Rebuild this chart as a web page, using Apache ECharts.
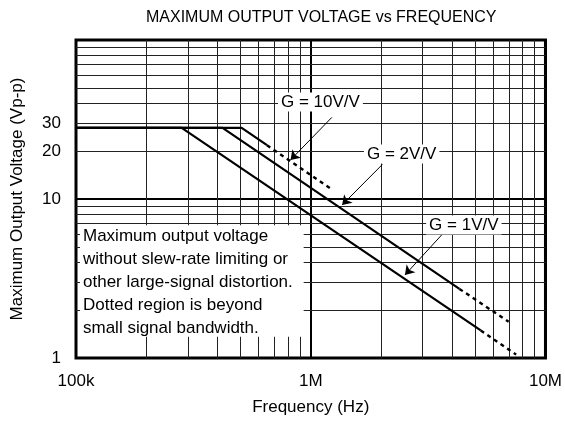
<!DOCTYPE html>
<html>
<head>
<meta charset="utf-8">
<script src="https://cdn.jsdelivr.net/npm/echarts@6/dist/echarts.min.js"></script>
<style>
  html, body { margin: 0; padding: 0; background: #fff; }
  #container { width: 565px; height: 424px; }
</style>
</head>
<body>
<div id="container"></div>
<script>
// curve data (frequency in Hz, output in Vp-p)
var gain10Freq = [100e3, 508e3, 651e3];
var gain10Volt = [28, 28, 21.8];
var gain10DotFreq = [651e3, 1.23e6];
var gain10DotVolt = [21.8, 11.5];

var gain2Freq = [100e3, 421e3, 4.3e6];
var gain2Volt = [28, 28, 2.72];
var gain2DotFreq = [4.3e6, 6.97e6];
var gain2DotVolt = [2.72, 1.69];

var gain1Freq = [100e3, 282e3, 5.3e6];
var gain1Volt = [28, 28, 1.49];
var gain1DotFreq = [5.3e6, 7.5e6];
var gain1DotVolt = [1.49, 1.05];

var yTickLabels = [1, 10, 20, 30];
var xDecades = [1e5, 1e6];
var yDecades = [1, 10];
var mantissas = [2, 3, 4, 5, 6, 7, 8, 9];

var gainLabels = ['G = 10V/V', 'G = 2V/V', 'G = 1V/V'];
var noteText = [
  'Maximum output voltage',
  'without slew-rate limiting or',
  'other large-signal distortion.',
  'Dotted region is beyond',
  'small signal bandwidth.'
];

function pairs(xs, ys) {
  return xs.map(function (x, i) { return [x, ys[i]]; });
}

var minorLines = [];
xDecades.forEach(function (d) {
  mantissas.forEach(function (m) { minorLines.push({ xAxis: d * m }); });
});
yDecades.forEach(function (d) {
  mantissas.forEach(function (m) { minorLines.push({ yAxis: d * m }); });
});

// annotation placement (data coords)
var labelPos = [[1.10e6, 40.8], [2.44e6, 19.2], [4.49e6, 6.87]];
var arrowPos = [
  [[1.23e6, 32.6], [8.2e5, 17.6]],
  [[2.02e6, 16.5], [1.36e6, 9.17]],
  [[3.72e6, 6.23], [2.52e6, 3.33]]
];

var font = 'Liberation Sans, Arial, Helvetica, sans-serif';
var solid = { color: '#000', width: 2.2, type: 'solid' };
var dotted = { color: '#000', width: 2.4, type: [4, 4] };

function curve(data, style) {
  return {
    type: 'line', data: data, z: 4, silent: true,
    showSymbol: false, symbol: 'none',
    lineStyle: style
  };
}

var dom = document.getElementById('container');
var myChart = echarts.init(dom, null, { renderer: 'canvas' });

var option = {
  animation: false,
  textStyle: { fontFamily: font },
  title: {
    text: 'MAXIMUM OUTPUT VOLTAGE vs FREQUENCY',
    left: 146, top: 10, padding: 0,
    textStyle: { fontSize: 16, fontWeight: 'normal', color: '#000', fontFamily: font }
  },
  grid: {
    left: 76, top: 40, width: 472, height: 318,
    show: true, borderColor: '#000', borderWidth: 3, backgroundColor: '#fff'
  },
  xAxis: {
    type: 'log', logBase: 10, min: 1e5, max: 1e7,
    name: 'Frequency (Hz)', nameLocation: 'middle', nameGap: 41,
    nameTextStyle: { fontSize: 17, color: '#000', fontFamily: font },
    axisLine: { show: false },
    axisTick: { show: false },
    axisLabel: {
      fontSize: 17, color: '#000', margin: 15, fontFamily: font,
      formatter: function (v) {
        v = Math.round(v);
        return v >= 1e6 ? (v / 1e6) + 'M' : (v / 1e3) + 'k';
      }
    },
    splitLine: { show: true, lineStyle: { color: '#000', width: 2 } }
  },
  yAxis: {
    type: 'log', logBase: 10, min: 1, max: 100,
    name: 'Maximum Output Voltage (Vp-p)', nameLocation: 'middle', nameGap: 50,
    nameTextStyle: { fontSize: 17, color: '#000', fontFamily: font },
    axisLine: { show: false },
    axisTick: { show: false },
    axisLabel: {
      fontSize: 17, color: '#000', margin: 15, fontFamily: font,
      customValues: yTickLabels,
      formatter: function (v) { return String(Math.round(v)); }
    },
    splitLine: { show: true, lineStyle: { color: '#000', width: 2 } }
  },
  series: [
    {
      type: 'line', data: [], z: 1, silent: true,
      markLine: {
        z: 1, silent: true, symbol: ['none', 'none'], animation: false,
        label: { show: false },
        lineStyle: { color: '#222', width: 1, type: 'solid' },
        data: minorLines
      }
    },
    {
      type: 'line', data: [], z: 3, silent: true,
      markArea: {
        z: 3, silent: true,
        itemStyle: { color: '#fff', opacity: 1 },
        label: {
          show: true, position: 'insideTopLeft', distance: 0, offset: [3, 0],
          fontSize: 17, lineHeight: 23, color: '#000', fontFamily: font,
          formatter: noteText.join('\n')
        },
        data: [[{ coord: [1.04e5, 6.85] }, { coord: [9.33e5, 1.36] }]]
      }
    },
    curve(pairs(gain10Freq, gain10Volt), solid),
    curve(pairs(gain10DotFreq, gain10DotVolt), dotted),
    curve(pairs(gain2Freq, gain2Volt), solid),
    curve(pairs(gain2DotFreq, gain2DotVolt), dotted),
    curve(pairs(gain1Freq, gain1Volt), solid),
    curve(pairs(gain1DotFreq, gain1DotVolt), dotted),
    {
      type: 'line', data: [], z: 5, silent: true,
      markLine: {
        z: 5, silent: true, symbol: ['none', 'arrow'], symbolSize: 9,
        label: { show: false },
        lineStyle: { color: '#000', width: 1, type: 'solid' },
        data: arrowPos.map(function (a) {
          return [{ coord: a[0] }, { coord: a[1] }];
        })
      },
      markPoint: {
        z: 5, silent: true, symbol: 'rect', symbolSize: 0,
        label: {
          show: true, position: 'inside', fontSize: 17, color: '#000',
          fontFamily: font, backgroundColor: '#fff', padding: [1, 3]
        },
        data: labelPos.map(function (p, i) {
          return { coord: p, value: gainLabels[i], label: { formatter: gainLabels[i] } };
        })
      }
    }
  ]
};

myChart.setOption(option);
window.addEventListener('resize', myChart.resize);
</script>
</body>
</html>
